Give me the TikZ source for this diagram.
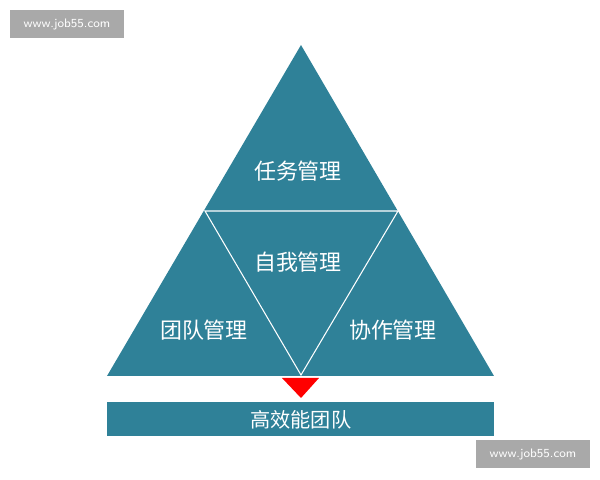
\documentclass[tikz,border=0pt]{standalone}
\usepackage{fontspec}
\newfontfamily\cjk{Noto Sans CJK SC}
\definecolor{teal1}{HTML}{2F8198}
\definecolor{wm}{HTML}{A9A9A9}
\begin{document}
\begin{tikzpicture}[x=0.02cm,y=-0.02cm,
  lab/.style={text=white,font=\cjk\fontsize{12.5}{14}\selectfont},
  wmk/.style={fill=wm,text=white,font=\fontsize{7}{8}\selectfont\sffamily,minimum width=2.28cm,minimum height=0.56cm,inner sep=0}]
\useasboundingbox (0,0) rectangle (600,480);
\coordinate (A) at (301,45);
\coordinate (B) at (107,376);
\coordinate (C) at (494,376);
\coordinate (P) at (205,211);
\coordinate (Q) at (398,211);
\coordinate (R) at (301,375);
\fill[teal1] (A) -- (B) -- (C) -- cycle;
\draw[white,line width=0.6pt] (P) -- (Q) -- (R) -- cycle;
\fill[red] (282,378) -- (319,378) -- (301,398) -- cycle;
\node[fill=teal1,minimum width=7.74cm,minimum height=0.68cm,inner sep=0,anchor=north west,lab,font=\cjk\fontsize{11.5}{13}\selectfont] (bar) at (107,402) {高效能团队};
\node[lab] (t1) at (298,171) {任务管理};
\node[lab] (t2) at (298,262) {自我管理};
\node[lab] (t3) at (204,330) {团队管理};
\node[lab] (t4) at (393,330) {协作管理};
\node[wmk] (w1) at (67,24) {www.job55.com};
\node[wmk] (w2) at (533,454) {www.job55.com};
\end{tikzpicture}
\end{document}
